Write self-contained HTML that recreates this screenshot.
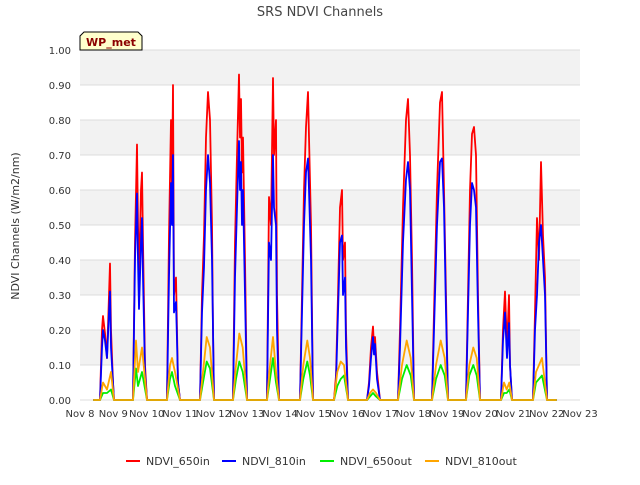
<!DOCTYPE html>
<html><head><meta charset="utf-8"><style>
body{margin:0;background:#fff;font-family:"Liberation Sans","DejaVu Sans",sans-serif;}
svg text{font-family:"DejaVu Sans","Liberation Sans",sans-serif;}
</style></head><body>
<svg id="chart" width="640" height="480" viewBox="0 0 640 480" xmlns="http://www.w3.org/2000/svg">
<rect width="640" height="480" fill="#fff"/>
<text x="320" y="16" text-anchor="middle" font-size="13" fill="#444">SRS NDVI Channels</text>
<g id="bands"></g><g id="grid"></g><g id="axes"></g><g id="series"></g>
<text transform="translate(19,226) rotate(-90)" text-anchor="middle" font-size="11" fill="#333">NDVI Channels (W/m2/nm)</text>
<g>
<path d="M80,50 L80,36 L84,32 L138,32 L142,36 L142,50 Z" fill="#ffffcc" stroke="#000" stroke-width="1"/>
<text x="111" y="46" text-anchor="middle" font-size="11" font-weight="bold" fill="#8b0000">WP_met</text>
</g>
<g id="legend"></g>
</svg>
<script>
const rbTimes=[0.4,0.6,0.66,0.69,0.75,0.81,0.87,0.9,0.93,0.99,1.02,1.59,1.65,1.71,1.74,1.77,1.83,1.86,1.89,1.95,2.01,2.61,2.67,2.73,2.76,2.79,2.82,2.88,2.91,2.94,3.0,3.6,3.66,3.72,3.78,3.84,3.9,3.96,3.99,4.02,4.59,4.65,4.71,4.77,4.8,4.83,4.86,4.89,4.95,5.01,5.61,5.67,5.73,5.79,5.82,5.88,5.91,5.97,6.6,6.66,6.72,6.78,6.84,6.87,6.93,6.99,7.62,7.68,7.74,7.8,7.86,7.89,7.95,7.98,8.04,8.61,8.67,8.73,8.79,8.82,8.85,8.91,9.0,9.54,9.6,9.69,9.78,9.84,9.9,9.96,10.02,10.56,10.62,10.71,10.8,10.86,10.92,10.98,11.04,11.58,11.64,11.7,11.76,11.82,11.88,11.94,12.0,12.63,12.69,12.75,12.81,12.87,12.9,12.96,13.59,13.65,13.71,13.77,13.83,13.89,13.95,14.01,14.3];
const red650in=[0,0,.2,.24,.19,.12,.3,.39,.2,.05,0,0,.45,.73,.5,.35,.6,.65,.45,.1,0,0,.47,.8,.6,.9,.3,.35,.2,.05,0,0,.3,.47,.75,.88,.8,.5,.2,0,0,.45,.7,.93,.75,.86,.65,.75,.4,0,0,.58,.5,.92,.7,.8,.3,0,0,.3,.6,.78,.88,.75,.5,0,0,.07,.3,.55,.6,.4,.45,.2,0,0,.05,.15,.21,.15,.18,.08,0,0,.2,.55,.8,.86,.7,.4,0,0,.25,.6,.85,.88,.6,.3,0,0,.3,.6,.76,.78,.7,.3,0,0,.2,.31,.15,.3,.1,0,0,.25,.52,.4,.68,.47,.35,0,0];
const blue810in=[0,0,.15,.2,.17,.12,.25,.31,.15,.05,0,0,.4,.59,.4,.26,.45,.52,.35,.08,0,0,.35,.62,.5,.7,.25,.28,.17,.05,0,0,.25,.38,.6,.7,.62,.4,.2,0,0,.35,.55,.74,.6,.68,.5,.6,.3,0,0,.45,.4,.7,.55,.5,.2,0,0,.25,.5,.65,.69,.6,.4,0,0,.05,.25,.45,.47,.3,.35,.15,0,0,.04,.12,.18,.13,.16,.06,0,0,.15,.45,.63,.68,.6,.3,0,0,.2,.5,.68,.69,.55,.25,0,0,.25,.5,.62,.6,.55,.25,0,0,.17,.25,.12,.22,.1,0,0,.2,.3,.45,.5,.4,.3,0,0];
const goTimes=[0.4,.6,.69,.81,.93,1.02,1.59,1.68,1.74,1.86,2.01,2.61,2.7,2.76,2.85,3.0,3.6,3.69,3.8,3.9,4.02,4.59,4.68,4.78,4.88,5.01,5.61,5.7,5.79,5.88,5.97,6.6,6.7,6.82,6.9,6.99,7.62,7.72,7.82,7.92,8.04,8.61,8.7,8.79,8.88,9.0,9.54,9.66,9.8,9.92,10.02,10.56,10.68,10.82,10.94,11.04,11.58,11.68,11.8,11.9,12.0,12.63,12.72,12.8,12.88,12.96,13.59,13.68,13.77,13.86,14.01,14.3];
const green650out=[0,0,.02,.02,.03,0,0,.09,.04,.08,0,0,.06,.08,.04,0,0,.05,.11,.09,0,0,.06,.11,.08,0,0,.06,.12,.05,0,0,.06,.11,.07,0,0,.04,.06,.07,0,0,.01,.02,.01,0,0,.06,.1,.07,0,0,.06,.1,.07,0,0,.07,.1,.07,0,0,.02,.02,.03,0,0,.05,.06,.07,0,0];
const orange810out=[0,0,.05,.03,.08,0,0,.17,.08,.15,0,0,.1,.12,.08,0,0,.08,.18,.15,0,0,.1,.19,.15,0,0,.1,.18,.08,0,0,.1,.17,.12,0,0,.08,.11,.1,0,0,.02,.03,.02,0,0,.1,.17,.12,0,0,.1,.17,.12,0,0,.1,.15,.12,0,0,.05,.03,.05,0,0,.08,.1,.12,0,0];
const yTicks=[0,.1,.2,.3,.4,.5,.6,.7,.8,.9,1.0];
const xTickLabels=["Nov 8","Nov 9","Nov 10","Nov 11","Nov 12","Nov 13","Nov 14","Nov 15","Nov 16","Nov 17","Nov 18","Nov 19","Nov 20","Nov 21","Nov 22","Nov 23"];
const seriesNames=["NDVI_650in","NDVI_810in","NDVI_650out","NDVI_810out"];
const seriesColors=["#ff0000","#0000ff","#00ee00","#ffa500"];

const L=80,R=580,T=50,B=400,NS="http://www.w3.org/2000/svg";
const xs=t=>L+t*(R-L)/15, ys=v=>B-v*(B-T);
function mk(tag,attrs,parent){const e=document.createElementNS(NS,tag);for(const k in attrs)e.setAttribute(k,attrs[k]);parent.appendChild(e);return e;}
const bands=document.getElementById('bands'),grid=document.getElementById('grid'),axes=document.getElementById('axes'),ser=document.getElementById('series'),leg=document.getElementById('legend');
mk('rect',{x:L,y:T,width:R-L,height:B-T,fill:'#fff'},bands);
for(let i=0;i<yTicks.length-1;i++){ if(i%2===1){const r=mk('rect',{x:L,y:ys(yTicks[i+1]),width:R-L,height:ys(yTicks[i])-ys(yTicks[i+1]),fill:'#f2f2f2'},bands);

}}
yTicks.forEach(v=>{const y=ys(v);
const g=mk('line',{x1:L,x2:R,y1:y,y2:y,stroke:'#dcdcdc','stroke-width':1},grid);


const t=mk('text',{x:L-9,y:y+4,'text-anchor':'end','font-size':10,fill:'#333'},axes);t.textContent=v.toFixed(2);

});
xTickLabels.forEach((s,i)=>{const x=xs(i);
const t=mk('text',{x:x,y:B+17,'text-anchor':'middle','font-size':10,fill:'#333'},axes);t.textContent=s;

});
const data=[[rbTimes,red650in],[rbTimes,blue810in],[goTimes,green650out],[goTimes,orange810out]];
data.forEach((d,k)=>{const pts=d[0].map((t,i)=>xs(t).toFixed(1)+','+ys(d[1][i]).toFixed(1)).join(' ');
const p=mk('polyline',{points:pts,fill:'none',stroke:seriesColors[k],'stroke-width':1.8,'stroke-linejoin':'round'},ser);

});
const legX=[126,222,320,425];
seriesNames.forEach((n,k)=>{const g=mk('g',{},leg);


mk('line',{x1:legX[k],x2:legX[k]+14,y1:461,y2:461,stroke:seriesColors[k],'stroke-width':2},g);
const t=mk('text',{x:legX[k]+20,y:465,'font-size':11,fill:'#333'},g);t.textContent=n;});
</script>
</body></html>
